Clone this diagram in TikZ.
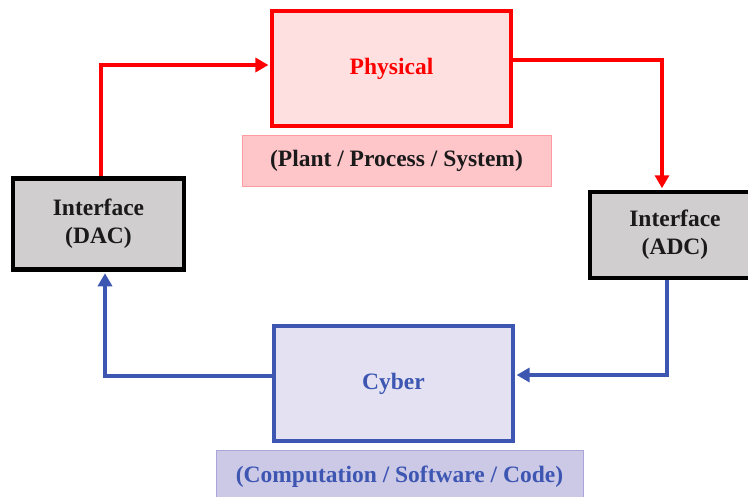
\documentclass[tikz,border=0pt]{standalone}
\usepackage{fontspec}
\setmainfont{Liberation Serif}
\usetikzlibrary{arrows.meta}

\definecolor{physred}{HTML}{FF0000}
\definecolor{physfill}{HTML}{FFE0E1}
\definecolor{plantfill}{HTML}{FFC6CA}
\definecolor{plantedge}{HTML}{FF9CA2}
\definecolor{ifill}{HTML}{D0CECE}
\definecolor{cyblue}{HTML}{3D56B2}
\definecolor{cyfill}{HTML}{E4E2F2}
\definecolor{compfill}{HTML}{CCC9E7}
\definecolor{compedge}{HTML}{AAA6DA}
\definecolor{inktext}{HTML}{1A1A1A}

\tikzset{
  lbl/.style={font=\fontsize{23.5}{28}\selectfont\bfseries, align=center, inner sep=0pt},
  bigbox/.style={lbl, rectangle, line width=4.2pt, minimum width=239pt, minimum height=115pt},
  physbox/.style={bigbox, draw=physred, fill=physfill, text=physred},
  cybox/.style={bigbox, draw=cyblue, fill=cyfill, text=cyblue},
  ifacebox/.style={lbl, rectangle, draw=black, line width=4.5pt, fill=ifill, text=inktext},
  tagbox/.style={lbl, rectangle, line width=1pt},
  rline/.style={draw=physred, line width=3.6pt, -{Triangle[length=13pt,width=14pt]}, shorten >=1.5pt},
  bline/.style={draw=cyblue, line width=3.6pt, -{Triangle[length=13pt,width=14pt]}, shorten >=1.5pt},
}

\begin{document}
\begin{tikzpicture}[x=1pt, y=-1pt]
  \useasboundingbox (0,0) rectangle (748,496);

  % blocks
  \node[physbox] (phys) at (391.5,68.5) {Physical};
  \node[tagbox, draw=plantedge, fill=plantfill, text=inktext,
        minimum width=309pt, minimum height=51pt] (plant) at (396.5,161) {(Plant / Process / System)};
  \node[ifacebox, minimum width=171pt, minimum height=91pt] (dac) at (98.5,224) {Interface\\(DAC)};
  \node[ifacebox, minimum width=170pt, minimum height=86pt] (adc) at (675,235) {Interface\\(ADC)};
  \node[cybox] (cyber) at (393.5,383.5) {Cyber};
  \node[tagbox, draw=compedge, fill=compfill, text=cyblue,
        minimum width=367pt, minimum height=54pt] (comp) at (399.5,477) {(Computation / Software / Code)};

  % control loop
  \draw[rline] ([xshift=2.5pt]dac.north) |- ([yshift=3.5pt]phys.west);
  \draw[rline] ([yshift=8.5pt]phys.east) -| ([xshift=-13pt]adc.north);
  \draw[bline] ([xshift=-8pt]adc.south) |- ([yshift=8.5pt]cyber.east);
  \draw[bline] ([yshift=7.5pt]cyber.west) -| ([xshift=6.5pt]dac.south);
\end{tikzpicture}
\end{document}
